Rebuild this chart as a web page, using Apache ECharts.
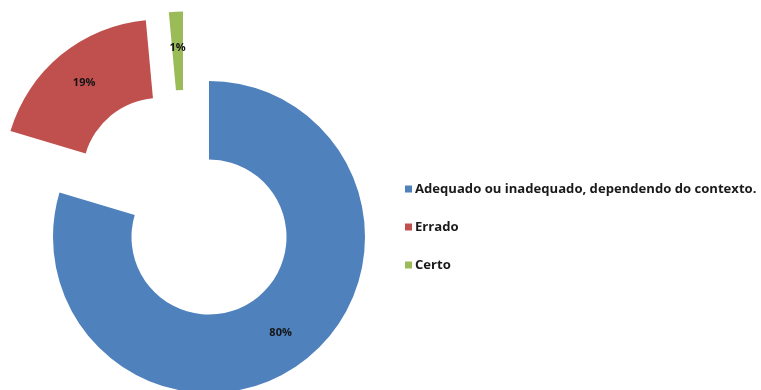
<!DOCTYPE html>
<html>
<head>
<meta charset="utf-8">
<script src="https://cdn.jsdelivr.net/npm/echarts@6/dist/echarts.min.js"></script>
<style>
  html, body { margin: 0; padding: 0; background: #ffffff; }
  #chart { width: 761px; height: 390px; }
</style>
</head>
<body>
<div id="chart"></div>
<script>
// ---- data ----
const categories = ['Adequado ou inadequado, dependendo do contexto.', 'Errado', 'Certo'];
const values = [79.6, 18.95, 1.45];
const colors = ['#4F81BD', '#C0504D', '#9BBB59'];

// ---- layout (exploded slices drawn by separate pie series with shifted centres) ----
const sliceCenters = [[209, 237], [160, 175.5], [183, 167.5]];
const radii = [77.5, 156];

const total = values.reduce((a, b) => a + b, 0);

function makeSeries(visibleIdx) {
  return {
    type: 'pie',
    name: 'slice' + visibleIdx,
    radius: radii,
    center: sliceCenters[visibleIdx],
    startAngle: 90,
    clockwise: true,
    avoidLabelOverlap: false,
    animation: false,
    silent: true,
    emphasis: { disabled: true },
    labelLine: { show: false },
    data: categories.map((name, i) => ({
      name: name,
      value: values[i],
      itemStyle: { color: colors[i], opacity: i === visibleIdx ? 1 : 0 },
      label: {
        show: i === visibleIdx,
        position: 'inside',
        formatter: p => Math.round(p.value / total * 100) + '%',
        color: '#141414',
        fontFamily: 'Open Sans',
        fontWeight: 'bold',
        fontSize: 11
      }
    }))
  };
}

const chart = echarts.init(document.getElementById('chart'), null, { renderer: 'canvas' });
chart.setOption({
  backgroundColor: '#ffffff',
  animation: false,
  legend: {
    orient: 'vertical',
    left: 400,
    top: 177,
    itemWidth: 7,
    itemHeight: 7,
    itemGap: 24,
    icon: 'rect',
    selectedMode: false,
    textStyle: {
      color: '#1a1a1a',
      fontFamily: 'Open Sans',
      fontWeight: 'bold',
      fontSize: 13.1,
      lineHeight: 14,
      padding: [0, 0, 0, -2]
    },
    data: categories.map((name, i) => ({
      name: name,
      itemStyle: { color: colors[i], opacity: 1 }
    }))
  },
  series: [makeSeries(0), makeSeries(1), makeSeries(2)]
});
</script>
</body>
</html>
